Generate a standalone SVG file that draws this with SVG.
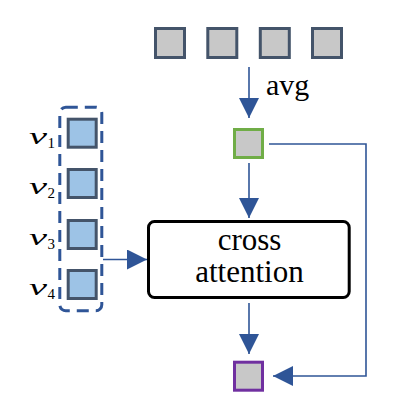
<svg xmlns="http://www.w3.org/2000/svg" width="400" height="409" viewBox="0 0 400 409" font-family="'Liberation Serif', 'Times New Roman', serif">
<defs>
<marker id="ah" markerUnits="userSpaceOnUse" markerWidth="20" markerHeight="20" refX="20" refY="10" orient="auto" viewBox="0 0 20 20">
<path d="M0,0 L20,10 L0,20 Z" fill="#2f5597"/>
</marker>
</defs>
<rect width="400" height="409" fill="#ffffff"/>
<text x="266" y="95" font-family="'Liberation Serif', 'Times New Roman', serif" font-size="30">avg</text>
<g id="cross-attention">
<rect x="148.5" y="221.5" width="200.7" height="76" rx="6" fill="#ffffff" stroke="#000" stroke-width="3"/>
<text x="249.5" y="250" font-family="'Liberation Serif', 'Times New Roman', serif" font-size="31" text-anchor="middle">cross</text>
<text x="249.5" y="282" font-family="'Liberation Serif', 'Times New Roman', serif" font-size="31" text-anchor="middle">attention</text>
</g>
<g id="tokens" fill="#c8c8c8" stroke="#44546a" stroke-width="3">
<rect x="155.5" y="28.5" width="29" height="29"/>
<rect x="207.8" y="28.5" width="29" height="29"/>
<rect x="260.3" y="28.5" width="29" height="29"/>
<rect x="312.5" y="28.5" width="29" height="29"/>
</g>
<g id="avg-token"><rect x="234.5" y="129.5" width="28" height="28" fill="#c8c8c8" stroke="#70ad47" stroke-width="3"/></g>
<g id="visual-tokens">
<rect x="59.8" y="107.2" width="42" height="203.6" rx="6" fill="none" stroke="#2f5597" stroke-width="3" stroke-dasharray="12 7"/>
<g fill="#9dc3e6" stroke="#44546a" stroke-width="3">
<rect x="68.2" y="119.2" width="28" height="28"/>
<rect x="68.2" y="169.5" width="28" height="28"/>
<rect x="68.2" y="220.5" width="28" height="28"/>
<rect x="68.2" y="270.5" width="28" height="28"/>
</g>
<text x="29" y="143.5" font-family="'Liberation Serif', 'Times New Roman', serif" font-style="italic" font-size="24" textLength="18" lengthAdjust="spacingAndGlyphs">v</text>
<text x="47.5" y="147.5" font-family="'Liberation Serif', 'Times New Roman', serif" font-size="15">1</text>
<text x="29" y="194" font-family="'Liberation Serif', 'Times New Roman', serif" font-style="italic" font-size="24" textLength="18" lengthAdjust="spacingAndGlyphs">v</text>
<text x="47.5" y="198" font-family="'Liberation Serif', 'Times New Roman', serif" font-size="15">2</text>
<text x="29" y="245" font-family="'Liberation Serif', 'Times New Roman', serif" font-style="italic" font-size="24" textLength="18" lengthAdjust="spacingAndGlyphs">v</text>
<text x="47.5" y="249" font-family="'Liberation Serif', 'Times New Roman', serif" font-size="15">3</text>
<text x="29" y="295" font-family="'Liberation Serif', 'Times New Roman', serif" font-style="italic" font-size="24" textLength="18" lengthAdjust="spacingAndGlyphs">v</text>
<text x="47.5" y="299" font-family="'Liberation Serif', 'Times New Roman', serif" font-size="15">4</text>
</g>
<g id="output-token"><rect x="234.5" y="362.2" width="28" height="28" fill="#c8c8c8" stroke="#7030a0" stroke-width="3"/></g>
<g id="connectors" fill="none" stroke="#2f5597" stroke-width="1.6">
<path d="M249,67 V118" marker-end="url(#ah)"/>
<path d="M249,163 V218" marker-end="url(#ah)"/>
<path d="M249,303 V354" marker-end="url(#ah)"/>
<path d="M269,144 H366 V376 H273" marker-end="url(#ah)"/>
<path d="M103,259.5 H147" marker-end="url(#ah)"/>
</g>
</svg>
